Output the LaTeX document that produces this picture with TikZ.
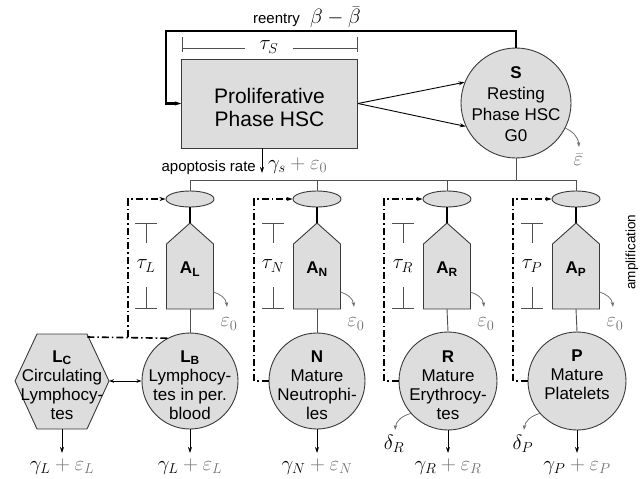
\documentclass[tikz,border=0pt]{standalone}
\usepackage[no-math]{fontspec}
\setmainfont{Liberation Sans}
\usetikzlibrary{shapes.geometric,arrows.meta}

\definecolor{cellfill}{HTML}{DDDDDD}
\definecolor{edgec}{HTML}{3A3A3A}
\definecolor{thinc}{HTML}{505050}
\definecolor{lossc}{HTML}{707070}

\tikzset{
  cellshape/.style={draw=edgec, fill=cellfill, line width=0.9},
  cellcircle/.style={cellshape, circle, inner sep=0, minimum size=#1},
  precursor/.style={cellshape, ellipse, inner sep=0, minimum width=48, minimum height=16},
  bigtxt/.style={font=\fontsize{21}{23}\selectfont, align=center, inner sep=0},
  celltxt/.style={font=\fontsize{17}{19}\selectfont, align=center, inner sep=0},
  smalltxt/.style={font=\fontsize{15}{17}\selectfont, inner sep=0},
  mathlbl/.style={font=\fontsize{20.74}{24}\selectfont, inner sep=0},
  buswire/.style={draw=thinc, line width=0.9},
  feedwire/.style={draw=black, line width=1.6},
  outarrow/.style={draw=black, line width=0.9, -{Stealth[length=6,width=4]}},
  lossarrow/.style={draw=lossc, line width=0.8, -{Stealth[length=5,width=3.5]}},
  delaybar/.style={draw=thinc, line width=0.9},
  reentrywire/.style={draw=black, line width=2.2},
  regulation/.style={draw=black, line width=1.6, dash pattern=on 7 off 3 on 1.6 off 3},
}

\begin{document}
\begin{tikzpicture}[x=1pt,y=-1pt]
\useasboundingbox (0,0) rectangle (640,479);

% ---- stem cell compartments
\node[cellshape, rectangle, minimum width=176, minimum height=89, inner sep=0] (prol) at (269.5,103.5) {};
\node[bigtxt] (proltxt) at (269.5,107) {Proliferative\\Phase HSC};

\node[cellcircle=110] (S) at (516,103) {};
\node[celltxt, font=\fontsize{17}{21}\selectfont] (Stxt) at (516,104) {\textbf{S}\\Resting\\Phase HSC\\G0};

\draw[outarrow] (prol.east) -- (S.158);
\draw[outarrow] (prol.east) -- (S.205);

% reentry loop
\coordinate (loopTL) at (166,31);
\draw[reentrywire, -{Stealth[length=6,width=4]}] (S.north) |- (loopTL) |- (prol.west);
\node[smalltxt, anchor=east] (reentrylbl) at (300,20) {reentry};
\node[mathlbl, anchor=west] (betalbl) at (310,17) {$\beta-\bar{\beta}$};

% proliferation duration
\coordinate (tsL) at (182,48);
\coordinate (tsR) at (357,48);
\draw[delaybar] (tsL) -- (245,48) (293,48) -- (tsR);
\draw[delaybar] (182,37) -- (182,52) (357,37) -- (357,52);
\node[mathlbl] (tauS) at (269,47) {$\tau_S$};

% apoptosis of proliferating cells
\coordinate (apop) at (262,173);
\draw[outarrow] (262,148) -- (apop);
\node[smalltxt, anchor=east] (apoplbl) at (256,168) {apoptosis rate};
\node[mathlbl, anchor=west] (apopmath) at (268,166) {$\gamma_s\textcolor{lossc}{{}+\varepsilon_0}$};

% loss from the resting phase
\coordinate (Sloss) at (579,147);
\draw[lossarrow] (S.-27) .. controls (572,131) and (578,136) .. (Sloss);
\node[mathlbl, text=lossc] (Sepsbar) at (578,160) {$\bar{\varepsilon}$};

% ---- the four lineages: precursor, amplification, mature cells
\foreach \cx/\id in {190/L,317/N,447/R,576/P} {
  \begin{scope}[shift={(\cx,0)}]
    \node[precursor] (e\id) at (0,199) {};
    \path[cellshape] (-23.5,309) -- (-23.5,244) -- (0,223) -- (23.5,244) -- (23.5,309) -- cycle;
    \coordinate (a\id top) at (0,223);
    \coordinate (a\id bot) at (0,309);
    \coordinate (a\id side) at (23.5,292);
    \coordinate (a\id loss) at (37,307);
    \node[celltxt] (a\id) at (0,269) {\textbf{A}\textsubscript{\textbf{\id}}};
    \draw[feedwire] (e\id.south) -- (a\id top);
    \draw[lossarrow] (a\id side) .. controls (30,294) and (36,298) .. (a\id loss);
    \node[mathlbl, text=lossc] (eps\id) at (39,324) {$\varepsilon_0$};
    % delay bar
    \draw[delaybar] (-44,223) -- (-44,243) (-44,287) -- (-44,308);
    \draw[delaybar] (-55,223) -- (-33,223) (-55,308) -- (-33,308);
    \node[mathlbl] (tau\id) at (-44,266) {$\tau_\id$};
  \end{scope}
}

% branching bus from the resting phase
\coordinate (busL) at (190,180);
\draw[buswire] (eL.north) -- (eL.north |- busL) -- (eP.north |- busL) -- (eP.north);
\draw[buswire] (eN.north) -- (eN.north |- busL);
\draw[buswire] (eR.north) -- (eR.north |- busL);
\draw[buswire] (S.south) -- (S.south |- busL);

% mature cells
\node[cellcircle=96] (LB) at (190,381) {};
\node[cellcircle=96] (N) at (317,381) {};
\node[cellcircle=98] (R) at (448,381) {};
\node[cellcircle=98] (P) at (577,381) {};
\node[celltxt] (LBtxt) at (190,385) {\textbf{L}\textsubscript{\textbf{B}}\\Lymphocy-\\tes in per.\\blood};
\node[celltxt] (Ntxt) at (317,385) {\textbf{N}\\Mature\\Neutrophi-\\les};
\node[celltxt] (Rtxt) at (448,385) {\textbf{R}\\Mature\\Erythrocy-\\tes};
\node[celltxt] (Ptxt) at (577,375) {\textbf{P}\\Mature\\Platelets};

\foreach \id/\c in {L/LB,N/N,R/R,P/P} {
  \draw[buswire] (a\id bot) -- (\c.north);
}

% circulating lymphocytes
\path[cellshape] (15,381) -- (37,334) -- (87,334) -- (109,381) -- (87,429) -- (37,429) -- cycle;
\coordinate (hexE) at (109,381);
\coordinate (hexS) at (62,429);
\coordinate (hexNE) at (87,337);
\node[celltxt] (LC) at (62,385) {\textbf{L}\textsubscript{\textbf{C}}\\Circulating\\Lymphocy-\\tes};
\draw[line width=0.9, {Stealth[length=5,width=3.5]}-{Stealth[length=5,width=3.5]}] (hexE) -- (LB.west);

% feedback regulation (dash-dotted)
\coordinate (fbL) at (128,337);
\draw[regulation] (LB.118) -- (hexNE);
\draw[regulation, -{Stealth[length=6,width=4]}] (fbL) |- (eL.west);
\foreach \id/\fx in {N/254,R/384,P/513} {
  \draw[regulation, -{Stealth[length=6,width=4]}] (\id.west) -| (\fx,199) -- (e\id.west);
}

% outflows
\coordinate (oLC) at (62,453);
\coordinate (oL) at (190,453);
\coordinate (oN) at (317,453);
\coordinate (oR) at (448,453);
\coordinate (oP) at (577,453);
\draw[outarrow] (hexS) -- (oLC);
\draw[outarrow] (LB.south) -- (oL);
\draw[outarrow] (N.south) -- (oN);
\draw[outarrow] (R.south) -- (oR);
\draw[outarrow] (P.south) -- (oP);
\node[mathlbl] (gLC) at (62,467) {$\gamma_L\textcolor{lossc}{{}+\varepsilon_L}$};
\node[mathlbl] (gL) at (190,467) {$\gamma_L\textcolor{lossc}{{}+\varepsilon_L}$};
\node[mathlbl] (gN) at (317,467) {$\gamma_N\textcolor{lossc}{{}+\varepsilon_N}$};
\node[mathlbl] (gR) at (448,467) {$\gamma_R\textcolor{lossc}{{}+\varepsilon_R}$};
\node[mathlbl] (gP) at (577,467) {$\gamma_P\textcolor{lossc}{{}+\varepsilon_P}$};

% random destruction of erythrocytes and platelets
\coordinate (dR) at (395,430);
\coordinate (dP) at (524,430);
\draw[lossarrow] (R.221) .. controls (402,416) and (396,421) .. (dR);
\draw[lossarrow] (P.221) .. controls (531,416) and (525,421) .. (dP);
\node[mathlbl] (delR) at (394,444) {$\delta_R$};
\node[mathlbl] (delP) at (523,444) {$\delta_P$};

% side caption
\node[font=\fontsize{13.5}{16}\selectfont, rotate=90, inner sep=0] (ampl) at (632,252) {amplification};
\end{tikzpicture}
\end{document}
